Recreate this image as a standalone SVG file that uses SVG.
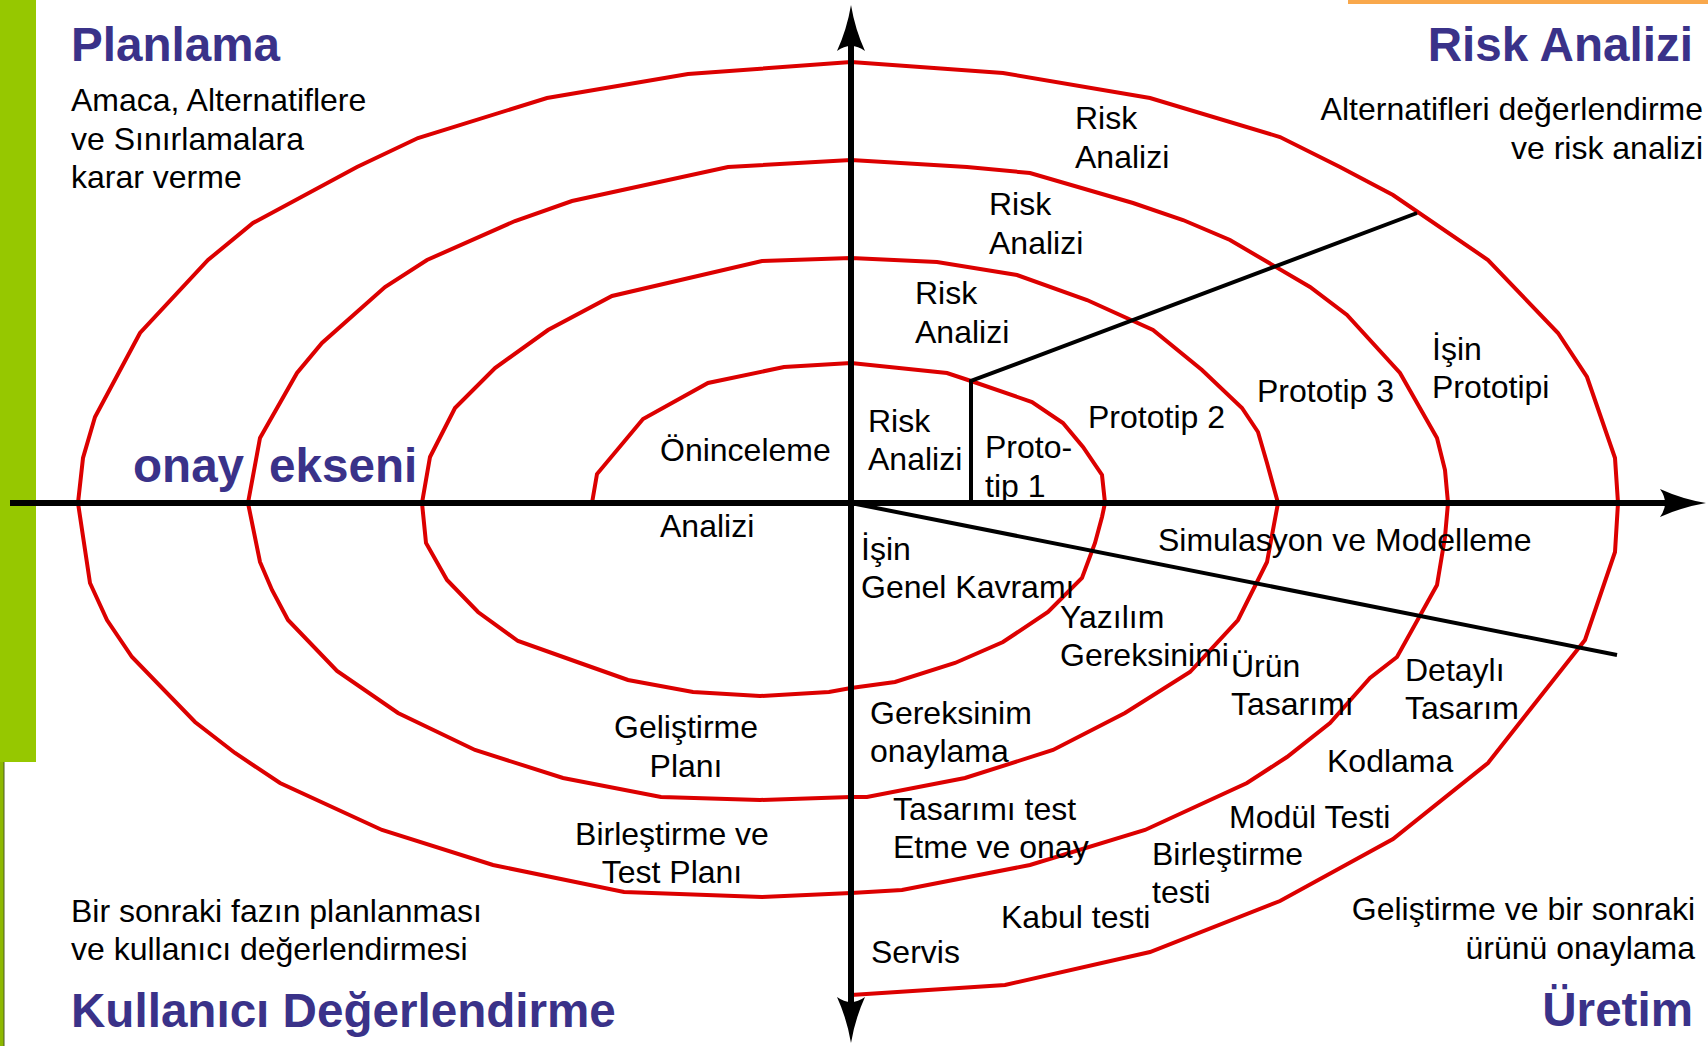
<svg xmlns="http://www.w3.org/2000/svg" xmlns:xlink="http://www.w3.org/1999/xlink" width="1708" height="1046" viewBox="0 0 1708 1046">
<style>
.t{font-family:"Liberation Sans",Arial,sans-serif;font-size:32px;fill:#000}
.h{font-family:"Liberation Sans",Arial,sans-serif;font-size:47.6px;font-weight:bold;fill:#3A3289}
.e{text-anchor:end}
.m{text-anchor:middle}
.spiral{fill:none;stroke:#DC0000;stroke-width:4;stroke-linejoin:miter}
.axis{stroke:#000;stroke-width:6;fill:none}
.ln{stroke:#000;stroke-width:4;fill:none}
</style>
<defs>
<path id="ah" d="M0,0 Q-24,-4 -46,-14 Q-36,0 -46,14 Q-24,4 0,0 Z" fill="#000"/>
</defs>
<rect x="0" y="0" width="1708" height="1046" fill="#fff"/>
<rect x="0" y="0" width="36" height="762" fill="#96C800"/>
<rect x="0" y="762" width="4" height="284" fill="#8DB800"/>
<line x1="4" y1="762" x2="4" y2="1046" stroke="#4a5a20" stroke-width="1"/>
<rect x="1348" y="0" width="360" height="4" fill="#F9A84C"/>

<g id="spiral">
<path class="spiral" d="M592,503 L597,474 643,419 708,383 784,367 851,363 947,373 971,381 1032,402 1063,423 1083,447 1102,475 1105,503 1102,517 1095,543 1082,578 1048,612 1003,642 955,663 895,682 851,688 829,692 760,696 693,692 628,680 580,663 518,641 478,612 447,580 426,543 422,503 430,457 455,408 495,368 548,330 612,296 762,261 851,258 937,262 1017,275 1087,300 1153,330 1202,370 1242,408 1258,432 1267,463 1278,503 1267,562 1238,620 1190,672 1125,713 1053,750 965,778 867,797 851,797 760,800 661,797 563,778 475,750 398,713 337,671 288,620 272,590 260,562 248,503 260,438 297,373 322,343 385,287 427,260 515,221 572,201 728,167 851,160 967,167 1030,173 1133,203 1183,220 1230,240 1310,287 1347,315 1400,373 1437,438 1445,470 1448,503 1445,537 1437,585 1397,657 1370,678 1330,723 1287,757 1247,783 1145,830 1030,865 902,890 851,893 762,897 624,892 493,865 382,830 280,783 235,753 195,722 132,657 107,620 90,583 78,503 83,458 95,417 140,333 208,260 253,223 357,167 418,138 547,98 688,74 851,62 1003,73 1150,98 1280,137 1340,167 1393,195 1488,260 1558,333 1587,377 1615,458 1618,503 1615,552 1585,640 1488,763 1393,839 1280,901 1150,952 1005,985 851,995"/>
</g>

<g id="connectors">
<line class="axis" x1="10" y1="503" x2="1680" y2="503"/>
<line class="axis" x1="851" y1="30" x2="851" y2="1018"/>
<use xlink:href="#ah" href="#ah" transform="translate(1706,503)"/>
<use xlink:href="#ah" href="#ah" transform="translate(851,5) rotate(-90)"/>
<use xlink:href="#ah" href="#ah" transform="translate(851,1043) rotate(90)"/>
<polyline class="ln" points="971,503 971,381 1417,213"/>
<line class="ln" x1="851" y1="503" x2="1617" y2="655"/>
</g>

<g id="planlama"><text class="h" x="71" y="61">Planlama</text>
<text class="t" x="71" y="111"><tspan x="71">Amaca, Alternatiflere</tspan><tspan x="71" dy="38.5">ve Sınırlamalara</tspan><tspan x="71" dy="38.5">karar verme</tspan></text></g>
<g id="risk-analizi"><text class="h e" x="1693" y="61">Risk Analizi</text>
<text class="t e" x="1703" y="120"><tspan x="1703">Alternatifleri değerlendirme</tspan><tspan x="1703" dy="39">ve risk analizi</tspan></text></g>
<g id="onay-ekseni"><text class="h" x="133" y="482">onay<tspan x="269">ekseni</tspan></text></g>
<g id="kullanici"><text class="t" x="71" y="922"><tspan x="71">Bir sonraki fazın planlanması</tspan><tspan x="71" dy="38">ve kullanıcı değerlendirmesi</tspan></text>
<text class="h" x="71" y="1027">Kullanıcı Değerlendirme</text></g>
<g id="uretim"><text class="t e" x="1695" y="920"><tspan x="1695">Geliştirme ve bir sonraki</tspan><tspan x="1695" dy="39">ürünü onaylama</tspan></text>
<text class="h e" x="1693" y="1026">Üretim</text></g>

<g id="risk1"><text class="t" x="868" y="432"><tspan x="868">Risk</tspan><tspan x="868" dy="38">Analizi</tspan></text></g>
<g id="risk2"><text class="t" x="915" y="304"><tspan x="915">Risk</tspan><tspan x="915" dy="39">Analizi</tspan></text></g>
<g id="risk3"><text class="t" x="989" y="215"><tspan x="989">Risk</tspan><tspan x="989" dy="39">Analizi</tspan></text></g>
<g id="risk4"><text class="t" x="1075" y="129"><tspan x="1075">Risk</tspan><tspan x="1075" dy="39">Analizi</tspan></text></g>
<g id="oninceleme"><text class="t" x="660" y="461">Öninceleme</text><text class="t" x="660" y="537">Analizi</text></g>
<g id="prototip1"><text class="t" x="985" y="458"><tspan x="985">Proto-</tspan><tspan x="985" dy="39">tip 1</tspan></text></g>
<g id="prototip2"><text class="t" x="1088" y="428">Prototip 2</text></g>
<g id="prototip3"><text class="t" x="1257" y="402">Prototip 3</text></g>
<g id="isin-prototipi"><text class="t" x="1432" y="360"><tspan x="1432">İşin</tspan><tspan x="1432" dy="38">Prototipi</tspan></text></g>
<g id="simulasyon"><text class="t" x="1158" y="551">Simulasyon ve Modelleme</text></g>
<g id="genel-kavram"><text class="t" x="861" y="560"><tspan x="861">İşin</tspan><tspan x="861" dy="38">Genel Kavramı</tspan></text></g>
<g id="yazilim-gereksinimi"><text class="t" x="1060" y="628"><tspan x="1060">Yazılım</tspan><tspan x="1060" dy="38">Gereksinimi</tspan></text></g>
<g id="urun-tasarimi"><text class="t" x="1231" y="677"><tspan x="1231">Ürün</tspan><tspan x="1231" dy="38">Tasarımı</tspan></text></g>
<g id="detayli-tasarim"><text class="t" x="1405" y="681"><tspan x="1405">Detaylı</tspan><tspan x="1405" dy="38">Tasarım</tspan></text></g>
<g id="kodlama"><text class="t" x="1327" y="772">Kodlama</text></g>
<g id="modul-testi"><text class="t" x="1229" y="828">Modül Testi</text></g>
<g id="birlestirme-testi"><text class="t" x="1152" y="865"><tspan x="1152">Birleştirme</tspan><tspan x="1152" dy="38">testi</tspan></text></g>
<g id="kabul-testi"><text class="t" x="1001" y="928">Kabul testi</text></g>
<g id="gereksinim-onaylama"><text class="t" x="870" y="724"><tspan x="870">Gereksinim</tspan><tspan x="870" dy="38">onaylama</tspan></text></g>
<g id="tasarim-test"><text class="t" x="893" y="820"><tspan x="893">Tasarımı test</tspan><tspan x="893" dy="38">Etme ve onay</tspan></text></g>
<g id="servis"><text class="t" x="871" y="963">Servis</text></g>
<g id="gelistirme-plani"><text class="t m" x="686" y="738"><tspan x="686">Geliştirme</tspan><tspan x="686" dy="39">Planı</tspan></text></g>
<g id="test-plani"><text class="t m" x="672" y="845"><tspan x="672">Birleştirme ve</tspan><tspan x="672" dy="38">Test Planı</tspan></text></g>
</svg>
